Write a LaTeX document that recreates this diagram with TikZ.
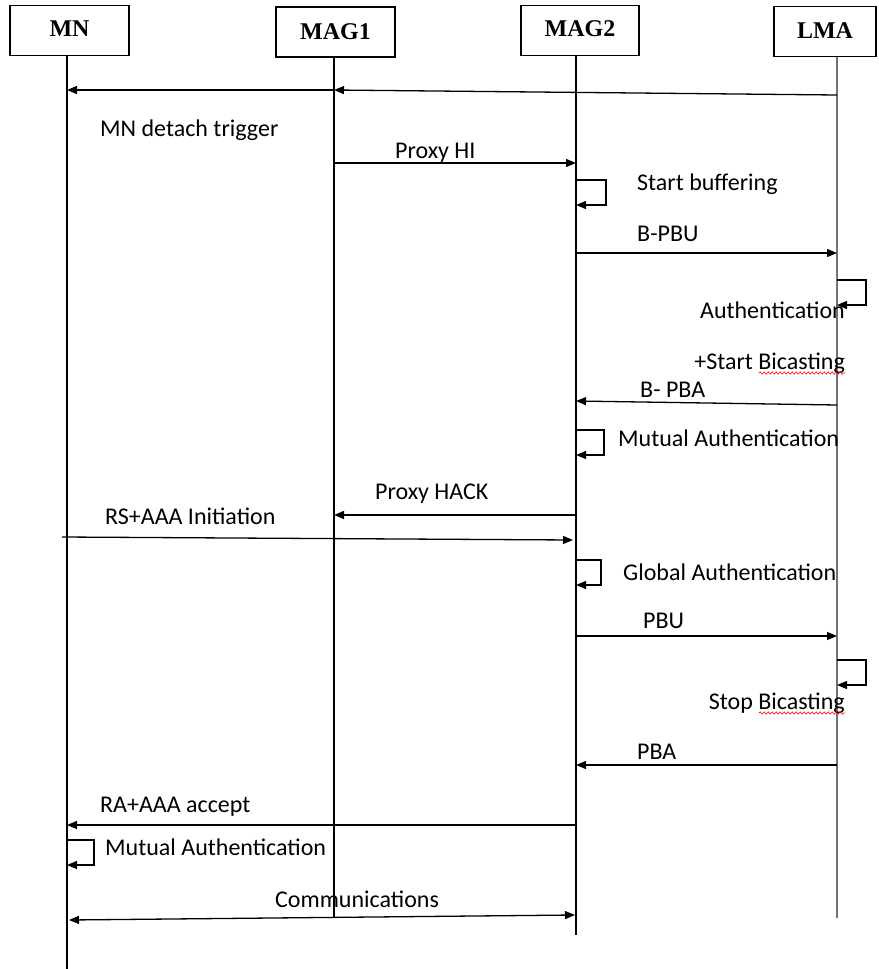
\documentclass[tikz,border=0pt]{standalone}
\usepackage{fontspec}
\setmainfont{Carlito}
\newfontfamily\boxfont{Liberation Serif}
\usetikzlibrary{arrows.meta,calc,decorations.pathmorphing}
\begin{document}
\begin{tikzpicture}[x=1pt,y=-1pt,
  actor/.style={draw,line width=1.5pt,minimum width=#1,minimum height=50pt,inner sep=0pt,font=\boxfont\bfseries\fontsize{24}{28}\selectfont},
  life/.style={line width=1.3pt},
  msg/.style={line width=1.3pt,-{Triangle[length=10pt,width=8pt]}},
  dmsg/.style={line width=1.3pt,{Triangle[length=10pt,width=8pt]}-{Triangle[length=10pt,width=8pt]}},
  lbl/.style={font=\fontsize{24}{28}\selectfont,inner sep=0pt},
  squig/.style={red,line width=0.6pt,decorate,decoration={snake,amplitude=1.1pt,segment length=4pt}}]
\useasboundingbox (0,0) rectangle (878,969);
% actors
\node[actor=119pt] (MN) at (69.5,30.5) {\raisebox{4pt}{MN}};
\node[actor=119pt] (MAG1) at (335.5,32) {MAG1};
\node[actor=118pt] (MAG2) at (580,30.5) {\raisebox{4pt}{MAG2}};
\node[actor=102pt] (LMA) at (825,31.5) {\raisebox{1pt}{LMA}};
% lifelines
\coordinate (mnT) at (67,55); \coordinate (mnB) at (67,969);
\coordinate (m1T) at (334,57); \coordinate (m1B) at (334,918);
\coordinate (m2T) at (576,56); \coordinate (m2B) at (576,935);
\coordinate (lmT) at (837,57); \coordinate (lmB) at (837,918);
\draw[life] (mnT) -- (mnB);
\draw[life] (m1T) -- (m1B);
\draw[life] (m2T) -- (m2B);
\draw[line width=2.4pt,black!55] (lmT) -- (lmB);
% 1: LMA -> MAG1 -> MN
\coordinate (a1s) at (837,95); \coordinate (a1m) at (334,90); \coordinate (a1e) at (67,90);
\draw[msg] (a1s) -- (a1m);
\draw[msg] (a1m) -- (a1e);
\node[lbl,anchor=base west] (t1) at (100,136) {MN detach trigger};
% Proxy HI
\coordinate (a2s) at (334,163); \coordinate (a2e) at (576,163);
\draw[msg] (a2s) -- (a2e);
\node[lbl,anchor=base west] (t2) at (395,158) {Proxy HI};
% Start buffering loop
\coordinate (s1) at (576,180); \coordinate (s1e) at (576,205);
\draw[msg] (s1) -| ($(s1e)+(30,0)$) -- (s1e);
\node[lbl,anchor=base west] (t3) at (637,190) {Start buffering};
% B-PBU
\coordinate (a3s) at (576,253); \coordinate (a3e) at (837,253);
\draw[msg] (a3s) -- (a3e);
\node[lbl,anchor=base west] (t4) at (637,241) {B-PBU};
% LMA loop
\coordinate (s2) at (837,280); \coordinate (s2e) at (837,305);
\draw[msg] (s2) -| ($(s2e)+(29,0)$) -- (s2e);
\node[lbl,anchor=base east] (t5) at (845,318) {Authentication};
\node[lbl,anchor=base east] (t6) at (845,369) {+Start Bicasting};
\draw[squig] ($(t6.base east)+(-86,4)$) -- ($(t6.base east)+(0,4)$);
% B-PBA
\coordinate (a4s) at (837,405); \coordinate (a4e) at (576,401);
\draw[msg] (a4s) -- (a4e);
\node[lbl,anchor=base west] (t7) at (640,397) {B- PBA};
% Mutual Authentication loop MAG2
\coordinate (s3) at (576,430); \coordinate (s3e) at (576,455);
\draw[msg] (s3) -| ($(s3e)+(28,0)$) -- (s3e);
\node[lbl,anchor=base west] (t8) at (618,446) {Mutual Authentication};
% Proxy HACK
\coordinate (a5s) at (576,515); \coordinate (a5e) at (334,515);
\draw[msg] (a5s) -- (a5e);
\node[lbl,anchor=base west] (t9) at (375,499) {Proxy HACK};
% RS+AAA Initiation
\coordinate (a6s) at (62,537); \coordinate (a6e) at (573,540);
\draw[msg] (a6s) -- (a6e);
\node[lbl,anchor=base west] (t10) at (105,524) {RS+AAA Initiation};
% Global Authentication loop
\coordinate (s4) at (576,560); \coordinate (s4e) at (576,585);
\draw[msg] (s4) -| ($(s4e)+(25,0)$) -- (s4e);
\node[lbl,anchor=base west] (t11) at (623,580) {Global Authentication};
% PBU
\coordinate (a7s) at (576,636); \coordinate (a7e) at (837,636);
\draw[msg] (a7s) -- (a7e);
\node[lbl,anchor=base west] (t12) at (643,628) {PBU};
% LMA loop 2
\coordinate (s5) at (837,660); \coordinate (s5e) at (837,685);
\draw[msg] (s5) -| ($(s5e)+(29,0)$) -- (s5e);
\node[lbl,anchor=base east] (t13) at (845,709) {Stop Bicasting};
\draw[squig] ($(t13.base east)+(-86,4)$) -- ($(t13.base east)+(0,4)$);
% PBA
\coordinate (a8s) at (837,765); \coordinate (a8e) at (576,765);
\draw[msg] (a8s) -- (a8e);
\node[lbl,anchor=base west] (t14) at (637,759) {PBA};
% RA+AAA accept
\coordinate (a9s) at (576,825); \coordinate (a9e) at (67,825);
\draw[msg] (a9s) -- (a9e);
\node[lbl,anchor=base west] (t15) at (100,812) {RA+AAA accept};
% MN loop
\coordinate (s6) at (67,840); \coordinate (s6e) at (67,865);
\draw[msg] (s6) -| ($(s6e)+(27,0)$) -- (s6e);
\node[lbl,anchor=base west] (t16) at (105,855) {Mutual Authentication};
% Communications
\coordinate (a10s) at (69,920); \coordinate (a10e) at (575,915);
\draw[dmsg] (a10s) -- (a10e);
\node[lbl,anchor=base west] (t17) at (275,907) {Communications};
\end{tikzpicture}
\end{document}
